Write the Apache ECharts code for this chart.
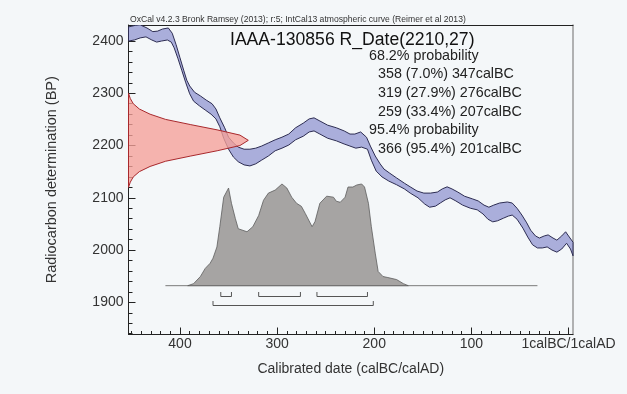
<!DOCTYPE html>
<html>
<head>
<meta charset="utf-8">
<title>IAAA-130856 R_Date(2210,27)</title>
<script src="https://cdn.jsdelivr.net/npm/echarts@6.0.0/dist/echarts.min.js"></script>
<style>
  html, body { margin: 0; padding: 0; background: #f4f7f9; }
  #chart { width: 627px; height: 394px; }
</style>
</head>
<body>
<div id="chart"></div>
<script>
// IntCal13 band, calBC years against radiocarbon age (BP)
const curveUpperYears = [453, 446, 441, 434, 428, 423, 418, 412, 408, 404, 400, 396, 393, 390, 385, 379, 373, 367, 363, 359,
  354, 350, 345, 340, 334, 328, 322, 316, 309, 302, 295, 288, 281, 273, 267, 262, 256, 248, 239, 231,
  225, 220, 214, 208, 204, 199, 194, 190, 184, 177, 169, 163, 156, 149, 142, 135, 130, 125, 120, 114,
  107, 99, 93, 87, 82, 77, 71, 63, 58, 53, 48, 43, 39, 34, 30, 25, 21, 16, 12, 7, 3, 0, -4.6];
const curveUpperBP = [2427, 2430, 2431, 2425, 2418, 2419, 2423, 2425, 2415, 2393, 2368, 2343, 2325, 2314, 2302, 2295, 2287, 2280, 2270, 2253,
  2234, 2216, 2205, 2197, 2193, 2193, 2195, 2199, 2205, 2211, 2216, 2222, 2234, 2243, 2251, 2253, 2247, 2239, 2234, 2228,
  2222, 2222, 2226, 2216, 2199, 2180, 2165, 2155, 2147, 2138, 2128, 2121, 2113, 2109, 2109, 2111, 2117, 2121, 2117, 2111,
  2103, 2098, 2094, 2086, 2082, 2086, 2090, 2092, 2090, 2080, 2067, 2052, 2038, 2027, 2023, 2027, 2029, 2023, 2019, 2027, 2035, 2027, 2015];
const curveLowerYears = [453, 447, 441, 435, 429, 424, 419, 413, 409, 406, 402, 398, 394, 390, 386, 380, 374, 368, 363, 359,
  355, 350, 345, 340, 334, 328, 322, 316, 309, 302, 295, 288, 281, 273, 267, 262, 256, 248, 239, 231,
  225, 219, 213, 207, 203, 198, 192, 185, 177, 169, 163, 155, 148, 143, 137, 132, 127, 122, 116, 109,
  101, 94, 88, 83, 78, 73, 67, 62, 58, 53, 47, 42, 37, 32, 27, 22, 17, 12, 7, 2, -2, -4.6];
const curveLowerBP = [2400, 2402, 2406, 2408, 2402, 2398, 2400, 2402, 2398, 2387, 2366, 2343, 2320, 2299, 2285, 2276, 2268, 2260, 2251, 2236,
  2214, 2193, 2178, 2169, 2163, 2161, 2165, 2172, 2180, 2190, 2195, 2201, 2211, 2218, 2226, 2228, 2222, 2214, 2209, 2203,
  2199, 2195, 2197, 2193, 2172, 2151, 2140, 2132, 2125, 2117, 2109, 2100, 2088, 2082, 2084, 2090, 2096, 2100, 2094, 2086,
  2080, 2077, 2069, 2059, 2054, 2056, 2061, 2065, 2067, 2059, 2042, 2025, 2010, 2004, 2004, 2006, 2000, 1996, 2002, 2013, 2002, 1989];

// measured date 2210 +/- 27 BP, relative density
const dateBP = [2300, 2290, 2280, 2270, 2260, 2250, 2240, 2230, 2220, 2210, 2200, 2190, 2180, 2170, 2160, 2150, 2140, 2130, 2120];
const dateDensity = [0, 0.015, 0.04, 0.09, 0.18, 0.31, 0.52, 0.74, 0.93, 1, 0.93, 0.74, 0.52, 0.31, 0.18, 0.09, 0.04, 0.015, 0];

// calibrated distribution, relative probability
const probYears = [392, 386, 379, 374, 369, 366, 362, 359, 355, 350, 347, 343, 340, 331, 325, 319, 314, 309, 302, 295,
  290, 285, 280, 275, 271, 264, 261, 256, 249, 242, 239, 235, 230, 227, 222, 218, 213, 210, 206, 203,
  199, 196, 191, 186, 177, 170, 165];
const probDensity = [0, 0.02, 0.09, 0.17, 0.22, 0.27, 0.38, 0.58, 0.87, 0.96, 0.81, 0.66, 0.56, 0.53, 0.58, 0.69, 0.84, 0.91, 0.94, 1,
  0.96, 0.87, 0.81, 0.78, 0.71, 0.58, 0.63, 0.81, 0.88, 0.87, 0.83, 0.82, 0.87, 0.97, 0.97, 0.99, 1, 0.97, 0.81, 0.58,
  0.32, 0.14, 0.09, 0.08, 0.06, 0.02, 0];
const probBaseYears = [415, 32];

const ranges68 = [[358, 347], [319, 276], [259, 207]];
const ranges95 = [[366, 201]];

const xTicks = [400, 300, 200, 100, 0];
const xTickLabels = ['400', '300', '200', '100', '1calBC/1calAD'];
const yTicks = [1900, 2000, 2100, 2200, 2300, 2400];

const sourceText = 'OxCal v4.2.3 Bronk Ramsey (2013); r:5; IntCal13 atmospheric curve (Reimer et al 2013)';
const titleText = 'IAAA-130856 R_Date(2210,27)';
const summaryLines = [
  ['68.2% probability', 0],
  ['358 (7.0%) 347calBC', 1],
  ['319 (27.9%) 276calBC', 1],
  ['259 (33.4%) 207calBC', 1],
  ['95.4% probability', 0],
  ['366 (95.4%) 201calBC', 1]
];

const FONT = 'Liberation Sans, Arial, sans-serif';

const xMinor = [];
for (let v = 10; v <= 450; v += 10) if (v % 100 !== 0) xMinor.push(v);
const yMinor = [];
for (let v = 1840; v <= 2420; v += 20) if (v % 100 !== 0) yMinor.push(v);

const zip = (a, b) => a.map((v, i) => [v, b[i]]);

const polygonSeries = (points, xi, yi, style, z) => ({
  type: 'custom',
  xAxisIndex: xi,
  yAxisIndex: yi,
  clip: true,
  silent: true,
  z: z,
  data: [points[0]],
  renderItem: (params, api) => ({
    type: 'polygon',
    shape: { points: points.map(p => api.coord(p)) },
    style: style
  })
});

const bracketSeries = (ranges, drop) => ({
  type: 'custom',
  xAxisIndex: 0,
  yAxisIndex: 2,
  silent: true,
  z: 5,
  data: ranges,
  renderItem: (params, api) => {
    const a = api.coord([api.value(0), 0]);
    const b = api.coord([api.value(1), 0]);
    const y = Math.round(a[1] + drop) + 0.5;
    return {
      type: 'polyline',
      shape: { points: [[a[0], y - 4.5], [a[0], y], [b[0], y], [b[0], y - 4.5]] },
      style: { stroke: '#555', lineWidth: 1, fill: null }
    };
  }
});

const bandPoints = zip(curveUpperYears, curveUpperBP).concat(zip(curveLowerYears, curveLowerBP).reverse());
const datePoints = zip(dateDensity, dateBP);
const probPoints = zip(probYears, probDensity);

const chart = echarts.init(document.getElementById('chart'));

chart.setOption({
  backgroundColor: '#f4f7f9',
  animation: false,
  textStyle: { fontFamily: FONT },
  grid: {
    left: 128.5, right: 54, top: 25, bottom: 59.5,
    containLabel: false,
    outerBoundsMode: 'none'
  },
  xAxis: [
    {
      type: 'value', min: -4.6, max: 453, inverse: true, position: 'bottom',
      name: 'Calibrated date (calBC/calAD)', nameLocation: 'middle', nameGap: 28,
      nameTextStyle: { fontSize: 14, color: '#333', fontFamily: FONT },
      axisLine: { show: true, onZero: false, lineStyle: { color: '#222', width: 1 } },
      axisTick: { show: true, inside: true, length: 7, customValues: xTicks, lineStyle: { color: '#222' } },
      axisLabel: {
        customValues: xTicks, margin: 3, fontSize: 14, color: '#333', fontFamily: FONT,
        formatter: v => xTickLabels[xTicks.indexOf(v)]
      },
      splitLine: { show: false }
    },
    {
      type: 'value', min: -4.6, max: 453, inverse: true, position: 'bottom',
      axisLine: { show: false, onZero: false },
      axisTick: { show: true, inside: true, length: 3.5, customValues: xMinor, lineStyle: { color: '#222' } },
      axisLabel: { show: false },
      splitLine: { show: false }
    },
    {
      type: 'value', min: 0, max: 3.71, position: 'top',
      axisLine: { show: true, onZero: false, lineStyle: { color: '#222', width: 1 } },
      axisTick: { show: false }, axisLabel: { show: false }, splitLine: { show: false }
    }
  ],
  yAxis: [
    {
      type: 'value', min: 1838.4, max: 2430.7, position: 'left',
      name: 'Radiocarbon determination (BP)', nameLocation: 'middle', nameGap: 69, nameRotate: 90,
      nameTextStyle: { fontSize: 14.5, color: '#333', fontFamily: FONT },
      axisLine: { show: true, onZero: false, lineStyle: { color: '#222', width: 1 } },
      axisTick: { show: true, inside: true, length: 7, customValues: yTicks, lineStyle: { color: '#222' } },
      axisLabel: {
        customValues: yTicks, margin: 5, fontSize: 14, color: '#333', fontFamily: FONT,
        formatter: v => String(v)
      },
      splitLine: { show: false }
    },
    {
      type: 'value', min: 1838.4, max: 2430.7, position: 'left',
      axisLine: { show: false, onZero: false },
      axisTick: { show: true, inside: true, length: 4, customValues: yMinor, lineStyle: { color: '#222' } },
      axisLabel: { show: false },
      splitLine: { show: false }
    },
    {
      type: 'value', min: -0.48, max: 2.563, position: 'right',
      axisLine: { show: true, onZero: false, lineStyle: { color: '#9a9a9a', width: 1.5 } },
      axisTick: { show: false }, axisLabel: { show: false }, splitLine: { show: false }
    }
  ],
  series: [
    polygonSeries(bandPoints, 0, 0, { fill: '#aaaedb', stroke: '#2d2d52', lineWidth: 1 }, 2),
    polygonSeries(datePoints, 2, 0, { fill: 'rgba(245,160,152,0.78)', stroke: '#a8282c', lineWidth: 1 }, 3),
    {
      type: 'line', xAxisIndex: 0, yAxisIndex: 2, z: 3, silent: true,
      data: probBaseYears.map(v => [v, 0]),
      symbol: 'none',
      lineStyle: { color: '#7a7a7a', width: 1 }
    },
    polygonSeries(probPoints, 0, 2, { fill: '#a6a4a3', stroke: '#5d5d5d', lineWidth: 0.8 }, 4),
    bracketSeries(ranges68, 10.3),
    bracketSeries(ranges95, 19.6)
  ],
  graphic: [
    { type: 'text', x: 130, y: 19.5, silent: true,
      style: { text: sourceText, font: '8.6px ' + FONT, fill: '#333', verticalAlign: 'middle' } },
    { type: 'text', x: 230, y: 40, silent: true,
      style: { text: titleText, font: '17.6px ' + FONT, fill: '#111', verticalAlign: 'middle' } }
  ].concat(summaryLines.map((line, i) => ({
    type: 'text', x: line[1] ? 378 : 369, y: 55.7 + i * 18.65, silent: true,
    style: { text: line[0], font: '14.3px ' + FONT, fill: '#222', verticalAlign: 'middle' }
  })))
});
</script>
</body>
</html>
